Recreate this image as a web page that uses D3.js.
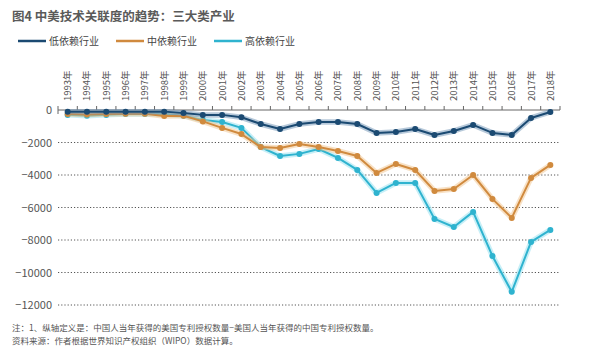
<!DOCTYPE html>
<html>
<head>
<meta charset="utf-8">
<script src="https://cdn.jsdelivr.net/npm/d3@7"></script>
<style>
  body { margin: 0; background: #fff; }
  text { font-family: "Noto Sans CJK SC", "Noto Sans", sans-serif; }
</style>
</head>
<body>
<svg id="chart" width="600" height="364"></svg>
<script>
// data (values in patents, negative = gap)
const years = d3.range(1993, 2019);
const lowDep = [-100, -100, -100, -100, -100, -100, -180, -300, -300, -450, -860, -1170, -860, -740, -740,
                -860, -1410, -1350, -1170, -1540, -1290, -920, -1410, -1540, -490, -120];
const midDep = [-250, -280, -250, -230, -230, -370, -350, -700, -1100, -1480, -2280, -2340, -2090, -2280, -2520,
                -2830, -3870, -3320, -3690, -4980, -4860, -4000, -5470, -6640, -4180, -3380];
const highDep = [-300, -350, -300, -250, -250, -250, -350, -620, -740, -1100, -2280, -2830, -2700, -2400, -2950,
                 -3690, -5100, -4490, -4490, -6700, -7200, -6270, -8980, -11190, -8120, -7380];
const yTicks = [0, -2000, -4000, -6000, -8000, -10000, -12000];

const series = [
    { name: "低依赖行业", values: lowDep, color: "#1b4a72", glow: "#6f93b5" },
    { name: "中依赖行业", values: midDep, color: "#d08a3e", glow: "#f2c48c" },
    { name: "高依赖行业", values: highDep, color: "#2fb3cf", glow: "#8fe0f0" },
];

const svg = d3.select("#chart");

const x = d3.scalePoint()
    .domain(years)
    .range([58, 560])
    .padding(0.5);
const y = d3.scaleLinear()
    .domain([-12000, 0])
    .range([305, 110]);

// title
svg.append("text")
    .attr("x", 12)
    .attr("y", 21)
    .attr("fill", "#5a5a5a")
    .style("font-size", "12.5px")
    .style("font-weight", "bold")
    .text("图4  中美技术关联度的趋势：三大类产业");

// legend
const legendX = [18, 116, 214];
series.forEach(function (s, i) {
    const g = svg.append("g").attr("transform", `translate(${legendX[i]},41)`);
    g.append("line")
        .attr("x1", 0).attr("x2", 28)
        .attr("stroke", s.color)
        .attr("stroke-width", 2.5);
    g.append("text")
        .attr("x", 31)
        .attr("y", 3.5)
        .attr("fill", "#444")
        .style("font-size", "10px")
        .text(s.name);
});

// dotted grid lines
svg.append("g")
    .selectAll("line")
    .data(yTicks.filter((d) => d != 0))
    .enter()
    .append("line")
    .attr("x1", 58)
    .attr("x2", 560)
    .attr("y1", (d) => y(d))
    .attr("y2", (d) => y(d))
    .attr("stroke", "#555")
    .attr("stroke-width", 1)
    .attr("stroke-dasharray", "1.2,2");

// y labels
svg.append("g")
    .selectAll("text")
    .data(yTicks)
    .enter()
    .append("text")
    .attr("x", 52)
    .attr("y", (d) => y(d) + 4)
    .attr("text-anchor", "end")
    .attr("fill", "#555")
    .style("font-size", "11px")
    .text((d) => d3.format("d")(d).replace("-", "−"));

// top axis line with ticks between years
svg.append("line")
    .attr("x1", 58).attr("x2", 560)
    .attr("y1", y(0)).attr("y2", y(0))
    .attr("stroke", "#666")
    .attr("stroke-width", 1);
const step = x.step();
svg.append("g")
    .selectAll("line")
    .data(d3.range(years.length + 1))
    .enter()
    .append("line")
    .attr("x1", (i) => 58 + i * step)
    .attr("x2", (i) => 58 + i * step)
    .attr("y1", y(0))
    .attr("y2", y(0) - 4)
    .attr("stroke", "#666");
svg.append("line")
    .attr("x1", 58).attr("x2", 58)
    .attr("y1", y(0)).attr("y2", y(0) + 4)
    .attr("stroke", "#666");

// year labels (rotated)
svg.append("g")
    .selectAll("text")
    .data(years)
    .enter()
    .append("text")
    .attr("transform", (d) => `translate(${x(d) + 3.5},101) rotate(-90)`)
    .attr("fill", "#555")
    .style("font-size", "9.5px")
    .text((d) => d + "年");

// lines with a soft halo
const line = d3.line()
    .x((d, i) => x(years[i]))
    .y((d) => y(d));

[series[2], series[1], series[0]].forEach(function (s) {
    const g = svg.append("g");
    g.append("path")
        .attr("d", line(s.values))
        .attr("fill", "none")
        .attr("stroke", s.glow)
        .attr("stroke-opacity", 0.5)
        .attr("stroke-width", 5.5)
        .attr("stroke-linejoin", "round");
    g.append("path")
        .attr("d", line(s.values))
        .attr("fill", "none")
        .attr("stroke", s.color)
        .attr("stroke-width", 2)
        .attr("stroke-linejoin", "round");
    g.selectAll("circle")
        .data(s.values)
        .enter()
        .append("circle")
        .attr("cx", (d, i) => x(years[i]))
        .attr("cy", (d) => y(d))
        .attr("r", 3)
        .attr("fill", s.color);
});

// notes
svg.append("text")
    .attr("x", 12)
    .attr("y", 331)
    .attr("fill", "#555")
    .style("font-size", "8.5px")
    .text("注：1、纵轴定义是：中国人当年获得的美国专利授权数量−美国人当年获得的中国专利授权数量。");
svg.append("text")
    .attr("x", 12)
    .attr("y", 344)
    .attr("fill", "#555")
    .style("font-size", "8.5px")
    .text("资料来源：作者根据世界知识产权组织（WIPO）数据计算。");
</script>
</body>
</html>
